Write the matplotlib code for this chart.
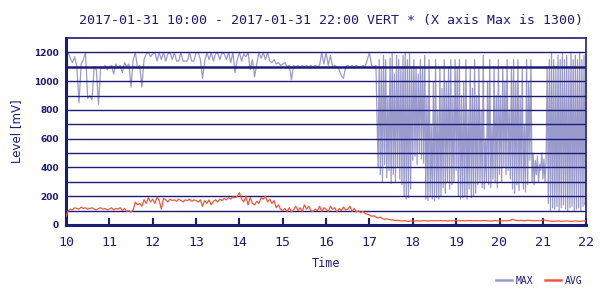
import numpy as np
import matplotlib
matplotlib.use('Agg')
import matplotlib.pyplot as plt
from matplotlib.lines import Line2D

# Данные
# MAX: шаг 3 мин до 17:12, дальше 1.5 мин; AVG: шаг 3 мин

hours_max = np.concatenate([np.arange(144) * 0.05 + 10, np.arange(193) * 0.025 + 17.2])
hours_avg = np.arange(241) * 0.05 + 10

max_mv = [
    # 10:00 - 17:09
    1150, 1200, 1160, 1130, 1170, 1100, 850, 1120, 1150, 1200, 880, 900, 870, 1100, 1080, 840, 1100, 1090, 1110, 1080,
    1100, 1110, 1050, 1120, 1090, 1110, 1060, 1130, 1100, 1120, 960, 1150, 1200, 1090, 1110, 960, 1150, 1190, 1200, 1170,
    1190, 1200, 1140, 1200, 1150, 1200, 1140, 1190, 1200, 1150, 1200, 1140, 1140, 1200, 1140, 1140, 1140, 1200, 1140, 1140,
    1200, 1200, 1150, 1020, 1140, 1200, 1150, 1200, 1140, 1190, 1200, 1150, 1200, 1190, 1150, 1200, 1130, 1200, 1060, 1150,
    1200, 1140, 1190, 1170, 1200, 1080, 1150, 1030, 1120, 1200, 1160, 1200, 1150, 1200, 1140, 1130, 1150, 1120, 1130, 1110,
    1120, 1130, 1100, 1110, 1010, 1110, 1100, 1110, 1100, 1110, 1100, 1110, 1100, 1110, 1100, 1110, 1100, 1110, 1200, 1120,
    1200, 1110, 1180, 1100, 1110, 1100, 1080, 1040, 1020, 1100, 1110, 1100, 1110, 1100, 1110, 1100, 1100, 1110, 1100, 1150,
    1200, 1110, 1100, 1110,
    # 17:12 - 22:00
    400, 1150, 350, 1100, 300, 1180, 420, 1150, 330, 900, 380, 1160, 290, 1200, 350, 1050, 300, 1180, 400, 1150, 320, 1100, 280, 1180,
    200, 1200, 180, 1150, 190, 1200, 250, 1100,
    450, 1150, 480, 1100, 420, 1050, 500, 1150, 460, 1100, 430, 1180,
    180, 900, 170, 1150, 200, 700, 180, 1000, 170, 1150, 190, 800, 180, 1100, 200, 950,
    260, 1150, 220, 1000, 300, 1100, 250, 1150, 280, 900, 300, 1150,
    380, 1100, 200, 1150, 180, 900, 190, 1000, 200, 1150, 180, 800, 250, 1100, 190, 950, 200, 1150, 220, 900,
    280, 1100, 300, 800, 260, 1180, 250, 600, 300, 1000, 280, 1150, 260, 700, 320, 1100, 300, 900, 260, 1150,
    350, 900, 300, 1100, 400, 1000, 350, 1150, 380, 800, 320, 1100,
    250, 1150, 220, 1000, 280, 1150, 240, 900, 300, 1100, 250, 700, 230, 1150, 280, 1000,
    450, 1150, 300, 500, 280, 450, 350, 480, 300, 420, 380, 500, 320, 460, 300, 450,
    1100, 150, 1150, 100, 1200, 120, 1150, 110, 1100, 130, 1180, 100, 1150, 120, 1200, 140, 1150, 110, 1180, 100,
    1100, 120, 1200, 130, 1150, 100, 1180, 110, 1150, 120, 1200, 100, 1150, 130, 1180, 140, 200,
]

avg_mv = [
    60, 100, 110, 105, 120, 115, 110, 125, 115, 120, 110, 115, 120, 110, 105, 115, 120, 110, 115, 105,
    110, 120, 105, 115, 110, 120, 100, 115, 95, 100, 90, 105, 160, 140, 150, 130, 175, 150, 190, 160,
    180, 150, 195, 170, 110, 185, 175, 160, 180, 170, 175, 165, 180, 170, 160, 175, 170, 180, 165, 175,
    170, 160, 175, 130, 170, 150, 175, 140, 165, 175, 160, 180, 170, 185, 175, 190, 180, 195, 190, 200,
    225, 180, 160, 200, 140, 190, 150, 140, 165, 150, 190, 180, 200, 160, 180, 150, 170, 120, 140, 110,
    100, 115, 95, 120, 90, 105, 130, 100, 120, 95, 140, 110, 130, 100, 95, 110, 100, 130, 95, 120,
    110, 95, 130, 110, 120, 90, 115, 100, 125, 105, 110, 130, 95, 115, 90, 100, 85, 95, 80, 75,
    70, 60, 65, 55, 50, 55, 45, 40, 42, 38, 36, 35, 30, 33, 30, 28, 30, 27, 25, 28,
    28, 27, 30, 28, 29, 30, 29, 28, 30, 29, 30, 29, 30, 30, 29, 30, 28, 29, 30, 29,
    30, 29, 30, 30, 29, 30, 31, 30, 29, 30, 30, 29, 30, 31, 30, 29, 28, 29, 30, 29,
    28, 29, 30, 29, 30, 32, 40, 35, 30, 31, 32, 31, 30, 33, 32, 30, 29, 30, 31, 30,
    35, 33, 30, 28, 27, 26, 27, 28, 27, 26, 27, 28, 27, 26, 27, 28, 27, 26, 27, 28,
    28,
]

x_ticks = list(range(10, 23))
y_ticks = list(range(0, 1201, 200))
grid_levels = list(range(100, 1201, 100))

title = '2017-01-31 10:00 - 2017-01-31 22:00 VERT * (X axis Max is 1300)'

navy = '#1c1c78'
c_max = '#9a9acc'
c_avg = '#ec5a3c'
mono = 'DejaVu Sans Mono'

# График

fig = plt.figure(figsize=(6, 3), dpi=100)
ax = fig.add_axes([0.11, 0.25, 0.867, 0.623])

# сетка поверх MAX, под AVG
for lv in grid_levels:
    ax.axhline(lv, color=navy, lw=1.8 if lv == 1100 else 1.0, zorder=2.5)

ax.plot(hours_max, max_mv, color=c_max, lw=0.9, zorder=2)
ax.plot(hours_avg, avg_mv, color=c_avg, lw=0.9, zorder=3)

ax.set_xlim(10, 22)
ax.set_ylim(0, 1300)

for s in ['top', 'right']:
    ax.spines[s].set_color(navy)
    ax.spines[s].set_linewidth(1.2)
for s in ['left', 'bottom']:
    ax.spines[s].set_color(navy)
    ax.spines[s].set_linewidth(2.2)

ax.set_xticks(x_ticks)
ax.set_xticklabels([str(t) for t in x_ticks], fontsize=9.5, color=navy, family=mono)
ax.tick_params(axis='x', direction='in', length=5, width=1.5, color=navy, pad=8)

ax.set_yticks(y_ticks)
ax.set_yticklabels([str(t) for t in y_ticks], fontsize=6.5, color=navy, fontweight='bold')
ax.tick_params(axis='y', length=0, pad=5)

ax.set_xlabel('Time', fontsize=8.5, color=navy, family=mono, labelpad=6)
ax.set_ylabel('Level [mV]', fontsize=8.5, color=navy, labelpad=8)

fig.text(0.552, 0.932, title, fontsize=9.5, color=navy, family=mono, ha='center', va='center')

handles = [Line2D([], [], color=c_max, lw=1.8), Line2D([], [], color=c_avg, lw=1.8)]
leg = fig.legend(handles, ['MAX', 'AVG'], loc='center right', bbox_to_anchor=(0.985, 0.065),
                 ncol=2, frameon=False, handlelength=1.6, handletextpad=0.4,
                 columnspacing=1.2, prop={'family': mono, 'size': 7})
for t in leg.get_texts():
    t.set_color(navy)

fig.savefig('out.png', dpi=100)
